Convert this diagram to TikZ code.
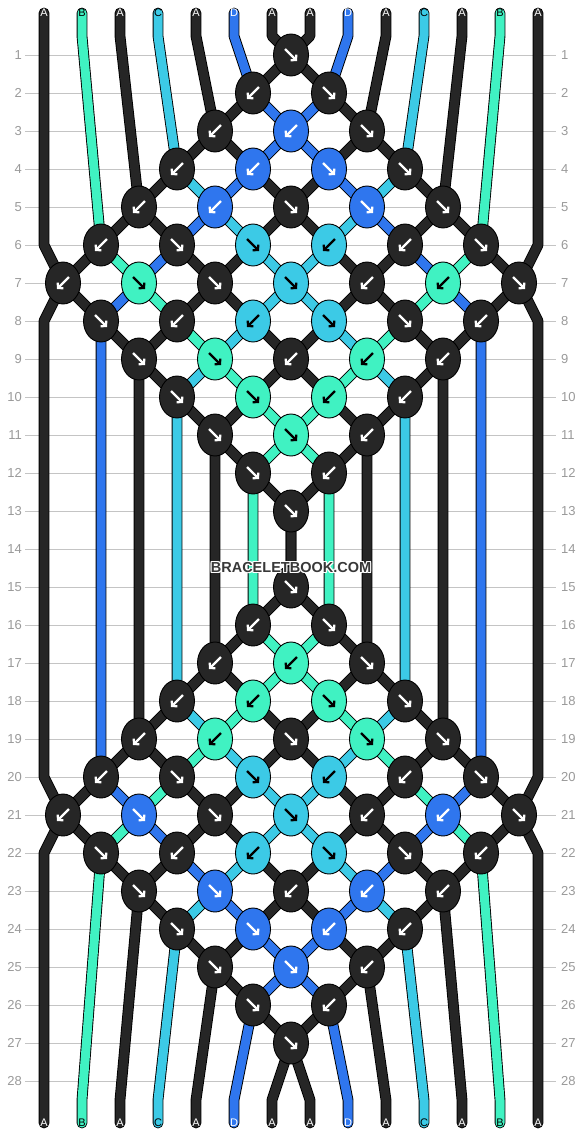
\documentclass[tikz,border=0pt]{standalone}
\usepackage{fontspec}
\setmainfont{Liberation Sans}
\usepackage{tikz}
\usetikzlibrary{shapes.geometric, arrows.meta}

\definecolor{colA}{HTML}{262626}
\definecolor{colB}{HTML}{40F2C2}
\definecolor{colC}{HTML}{3CCAE6}
\definecolor{colD}{HTML}{2F76EE}
\colorlet{arrA}{white}
\colorlet{arrB}{black}
\colorlet{arrC}{black}
\colorlet{arrD}{white}
\colorlet{txtA}{white}
\colorlet{txtB}{black}
\colorlet{txtC}{black}
\colorlet{txtD}{white}
\definecolor{gridgray}{HTML}{C4C4C4}
\definecolor{rowgray}{HTML}{9A9A9A}
\definecolor{wmgray}{HTML}{383838}

\pgfdeclarelayer{grid}
\pgfdeclarelayer{strands}
\pgfsetlayers{grid,strands,main}

\tikzset{
  knot/.style={ellipse, draw=black, line width=0.9pt, fill=col#1,
    minimum width=35pt, minimum height=42pt, inner sep=0pt},
  knotarrow/.style={draw=arr#1, line width=2.2pt,
    -{Straight Barb[length=3.5pt,width=8pt]}},
  dirR/.style={},
  dirL/.style={xscale=-1},
  strand/.style={draw=black, line width=0.9pt, double=col#1,
    double distance=9pt, line cap=round, line join=round},
  endlabel/.style={text=txt#1, font=\fontsize{11}{11}\selectfont, inner sep=0pt},
  rowlabel/.style={text=rowgray, font=\fontsize{13}{13}\selectfont, inner sep=0pt},
  gridline/.style={draw=gridgray, line width=1pt},
  watermark/.style={font=\bfseries\fontsize{14.5}{14.5}\selectfont, inner sep=0pt},
}

\begin{document}
\begin{tikzpicture}[x=1pt, y=-1pt]
\useasboundingbox (0,0) rectangle (582,1136);

% rows
\begin{pgfonlayer}{grid}
\fill[white] (0,0) rectangle (582,1136);
\foreach \r in {1,...,28}{
  \pgfmathsetmacro{\yr}{55+38*(\r-1)}
  \draw[gridline] (25,\yr) -- (556,\yr);
  \node[rowlabel, anchor=east] (rl-\r) at (22,\yr) {\r};
  \node[rowlabel, anchor=west] (rr-\r) at (561,\yr) {\r};
}
\end{pgfonlayer}

% knots: position/direction/colour
\foreach \r/\row in {
  1/{7/R/A},
  2/{6/L/A, 8/R/A},
  3/{5/L/A, 7/L/D, 9/R/A},
  4/{4/L/A, 6/L/D, 8/R/D, 10/R/A},
  5/{3/L/A, 5/L/D, 7/R/A, 9/R/D, 11/R/A},
  6/{2/L/A, 4/R/A, 6/R/C, 8/L/C, 10/L/A, 12/R/A},
  7/{1/L/A, 3/R/B, 5/R/A, 7/R/C, 9/L/A, 11/L/B, 13/R/A},
  8/{2/R/A, 4/L/A, 6/L/C, 8/R/C, 10/R/A, 12/L/A},
  9/{3/R/A, 5/R/B, 7/L/A, 9/L/B, 11/L/A},
  10/{4/R/A, 6/R/B, 8/L/B, 10/L/A},
  11/{5/R/A, 7/R/B, 9/L/A},
  12/{6/R/A, 8/L/A},
  13/{7/R/A},
  15/{7/R/A},
  16/{6/L/A, 8/R/A},
  17/{5/L/A, 7/L/B, 9/R/A},
  18/{4/L/A, 6/L/B, 8/R/B, 10/R/A},
  19/{3/L/A, 5/L/B, 7/R/A, 9/R/B, 11/R/A},
  20/{2/L/A, 4/R/A, 6/R/C, 8/L/C, 10/L/A, 12/R/A},
  21/{1/L/A, 3/R/D, 5/R/A, 7/R/C, 9/L/A, 11/L/D, 13/R/A},
  22/{2/R/A, 4/L/A, 6/L/C, 8/R/C, 10/R/A, 12/L/A},
  23/{3/R/A, 5/R/D, 7/L/A, 9/L/D, 11/L/A},
  24/{4/R/A, 6/R/D, 8/L/D, 10/L/A},
  25/{5/R/A, 7/R/D, 9/L/A},
  26/{6/R/A, 8/L/A},
  27/{7/R/A}}{
  \foreach \p/\d/\c in \row {
    \node[knot=\c] (k-\r-\p) at ({63+38*(\p-1)},{55+38*(\r-1)}) {};
    \draw[knotarrow=\c, dir\d] (k-\r-\p.center) ++(-6,-6) -- ++(12,12);
  }
}

% string ends
\foreach \s/\c in {1/A, 2/B, 3/A, 4/C, 5/A, 6/D, 7/A,
                   8/A, 9/D, 10/A, 11/C, 12/A, 13/B, 14/A}{
  \node[endlabel=\c] (tl-\s) at ({44+38*(\s-1)},13) {\c};
  \node[endlabel=\c] (bl-\s) at ({44+38*(\s-1)},1123) {\c};
}

% strands
\begin{pgfonlayer}{strands}
\foreach \s/\c in {1/A, 2/B, 3/A, 4/C, 5/A, 6/D, 7/A}{
  \pgfmathsetmacro{\xs}{44+38*(\s-1)}
  \pgfmathsetmacro{\yin}{ifthenelse(\s==1, 245, 36)}
  \pgfmathsetmacro{\yout}{ifthenelse(\s==1, 853, 1100)}
  \pgfmathsetmacro{\xm}{ifthenelse(\s==7, 538, 63+38*(\s+5))}
  \pgfmathsetmacro{\yma}{ifthenelse(\s==7, 321, 55+38*(13-\s))}
  \pgfmathsetmacro{\ymb}{ifthenelse(\s==7, 777, 55+38*(13+\s))}
  \coordinate (in-\s) at (\xs,\yin);
  \coordinate (ma-\s) at (\xm,\yma);
  \coordinate (mb-\s) at (\xm,\ymb);
  \coordinate (out-\s) at (\xs,\yout);
  \draw[strand=\c] (tl-\s.center) -- (in-\s)
    \foreach \i [evaluate=\i as \r using int(8-\s+\i),
                 evaluate=\i as \p using int(\s+\i)] in {0,...,6}{ -- (k-\r-\p.center) }
    -- (ma-\s) -- (mb-\s)
    \foreach \i [evaluate=\i as \r using int(14+\s+\i),
                 evaluate=\i as \p using int(\s+6-\i)] in {0,...,6}{ -- (k-\r-\p.center) }
    -- (out-\s) -- (bl-\s.center);
}
\foreach \s/\c in {8/A, 9/D, 10/A, 11/C, 12/A, 13/B, 14/A}{
  \pgfmathsetmacro{\xs}{44+38*(\s-1)}
  \pgfmathsetmacro{\yin}{ifthenelse(\s==14, 245, 36)}
  \pgfmathsetmacro{\yout}{ifthenelse(\s==14, 853, 1100)}
  \pgfmathsetmacro{\xm}{ifthenelse(\s==8, 44, 63+38*(\s-8))}
  \pgfmathsetmacro{\yma}{ifthenelse(\s==8, 321, 55+38*(\s-2))}
  \pgfmathsetmacro{\ymb}{ifthenelse(\s==8, 777, 55+38*(28-\s))}
  \coordinate (in-\s) at (\xs,\yin);
  \coordinate (ma-\s) at (\xm,\yma);
  \coordinate (mb-\s) at (\xm,\ymb);
  \coordinate (out-\s) at (\xs,\yout);
  \draw[strand=\c] (tl-\s.center) -- (in-\s)
    \foreach \i [evaluate=\i as \r using int(\s-7+\i),
                 evaluate=\i as \p using int(\s-1-\i)] in {0,...,6}{ -- (k-\r-\p.center) }
    -- (ma-\s) -- (mb-\s)
    \foreach \i [evaluate=\i as \r using int(29-\s+\i),
                 evaluate=\i as \p using int(\s-7+\i)] in {0,...,6}{ -- (k-\r-\p.center) }
    -- (out-\s) -- (bl-\s.center);
}
\end{pgfonlayer}

% watermark
\foreach \dx/\dy [count=\n] in {-1/-1, 0/-1, 1/-1, -1/0, 1/0, -1/1, 0/1, 1/1}
  \node[watermark, text=white] (wm-\n) at ({291+\dx},{567+\dy}) {BRACELETBOOK.COM};
\node[watermark, text=wmgray] (wm) at (291,567) {BRACELETBOOK.COM};
\end{tikzpicture}
\end{document}
